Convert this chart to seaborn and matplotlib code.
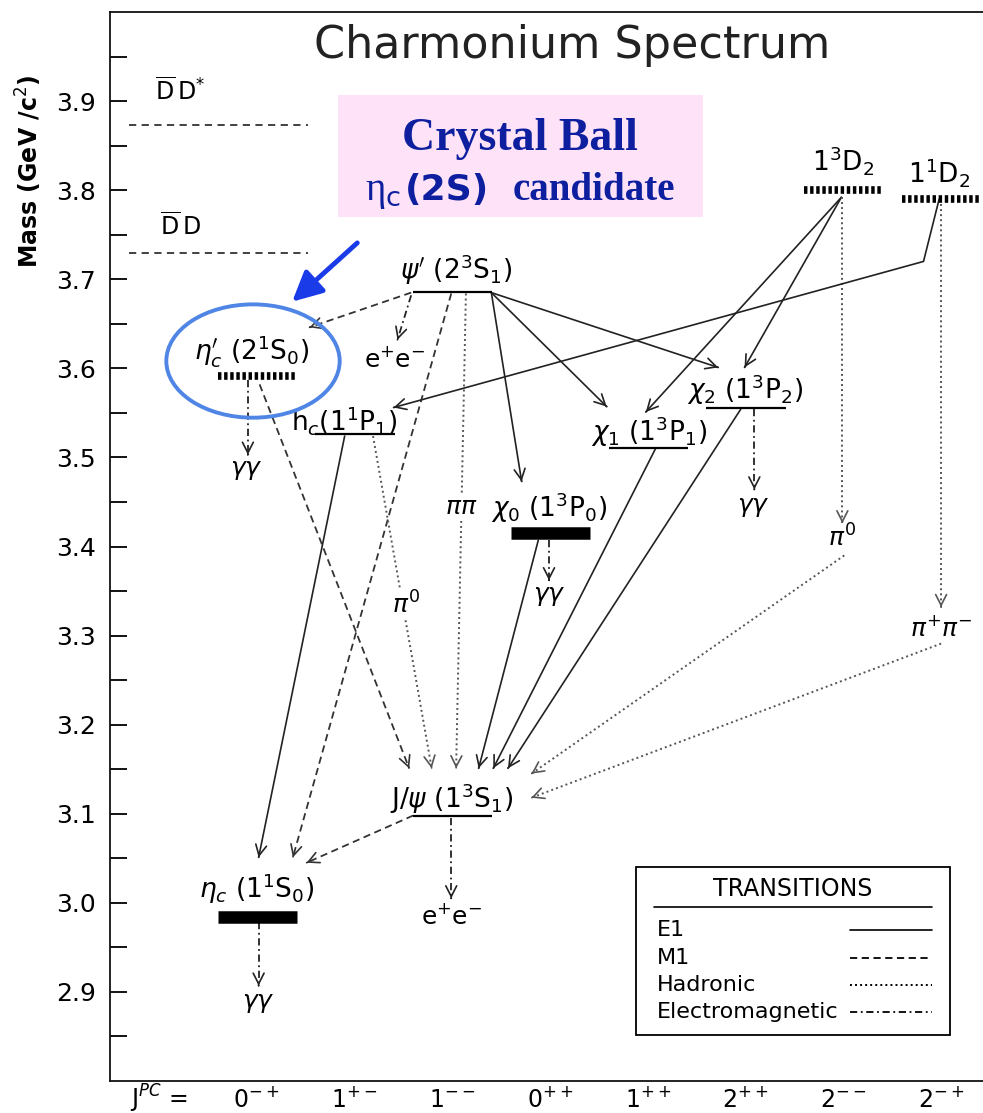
import matplotlib
matplotlib.use("Agg")
import matplotlib.pyplot as plt
from matplotlib.patches import Rectangle, Ellipse
import seaborn as sns
import numpy as np

# x axis: J^PC columns
jpc_pos = [-1, 0, 1, 2, 3, 4, 5, 6, 7]
jpc_labels = [r"J$^{PC}$ =", r"0$^{-+}$", r"1$^{+-}$", r"1$^{--}$", r"0$^{++}$",
              r"1$^{++}$", r"2$^{++}$", r"2$^{--}$", r"2$^{-+}$"]

# charmonium states (column, mass in GeV/c^2)
state_names = [r"$\eta_c$ (1$^1$S$_0$)", r"$\eta_c^{\prime}$ (2$^1$S$_0$)", r"h$_c$(1$^1$P$_1$)",
               r"J/$\psi$ (1$^3$S$_1$)", r"$\psi^{\prime}$ (2$^3$S$_1$)", r"$\chi_0$ (1$^3$P$_0$)",
               r"$\chi_1$ (1$^3$P$_1$)", r"$\chi_2$ (1$^3$P$_2$)", r"1$^3$D$_2$", r"1$^1$D$_2$"]
state_col = [0, 0, 1, 2, 2, 3, 4, 5, 6, 7]
state_mass = [2.984, 3.591, 3.526, 3.097, 3.686, 3.415, 3.511, 3.556, 3.800, 3.790]
state_kind = ["bar", "hatch", "thin", "thin", "thin", "bar", "thin", "thin", "hatch", "hatch"]
state_label_x = [0.0, -0.05, 0.90, 1.99, 2.04, 2.99, 4.01, 4.99, 6.0, 6.98]
state_label_m = [3.016, 3.619, 3.542, 3.117, 3.711, 3.443, 3.529, 3.576, 3.833, 3.820]

# open charm thresholds
thresh_names = [r"$\overline{\rm D}\,$D$^{*}$", r"$\overline{\rm D}\,$D"]
thresh_mass = [3.873, 3.730]
thresh_label_m = [3.911, 3.760]

# transitions: type, start (x, mass), end (x, mass)
trans_type = ["M1", "EM", "M1", "had", "E1", "E1", "E1", "EM", "M1", "E1", "had", "E1", "EM",
              "E1", "E1", "EM", "E1", "E1", "had", "had", "had", "had", "M1", "EM", "EM"]
trans_x0 = [1.58, 1.58, 1.99, 2.14, 2.40, 2.40, 2.40, -0.09, 0.03, 0.90, 1.19, 2.88, 2.99,
            4.08, 4.95, 5.09, 5.98, 5.98, 5.99, 6.01, 7.0, 7.0, 1.60, 1.99, 0.02]
trans_m0 = [3.685, 3.682, 3.684, 3.684, 3.685, 3.685, 3.685, 3.587, 3.582, 3.524, 3.524, 3.407, 3.407,
            3.510, 3.554, 3.554, 3.792, 3.792, 3.792, 3.390, 3.790, 3.291, 3.098, 3.095, 2.978]
trans_x1 = [0.54, 1.44, 0.37, 2.04, 2.71, 3.58, 4.72, -0.09, 1.56, 0.02, 1.79, 2.27, 2.99,
            2.42, 2.57, 5.09, 3.98, 4.99, 5.99, 2.81, 7.0, 2.81, 0.51, 1.99, 0.02]
trans_m1 = [3.646, 3.632, 3.051, 3.151, 3.473, 3.557, 3.601, 3.503, 3.151, 3.051, 3.151, 3.151, 3.362,
            3.151, 3.151, 3.464, 3.551, 3.601, 3.426, 3.145, 3.332, 3.118, 3.045, 3.005, 2.907]

# 1^1D_2 -> h_c (bent line)
bent_x = [6.98, 6.82, 1.40]
bent_m = [3.790, 3.720, 3.556]

# decay products
prod_names = [r"$\gamma\gamma$", r"e$^{+}$e$^{-}$", r"$\pi\pi$", r"$\pi^{0}$", r"$\gamma\gamma$",
              r"$\gamma\gamma$", r"$\pi^{0}$", r"$\pi^{+}\pi^{-}$", r"e$^{+}$e$^{-}$", r"$\gamma\gamma$"]
prod_x = [-0.11, 1.41, 2.09, 1.53, 2.99, 5.08, 5.99, 7.0, 1.99, 0.02]
prod_m = [3.486, 3.610, 3.444, 3.334, 3.344, 3.444, 3.410, 3.308, 2.985, 2.887]

legend_names = ["E1", "M1", "Hadronic", "Electromagnetic"]
legend_types = ["E1", "M1", "had", "EM"]

line_styles = {
    "E1": dict(ls="-", color="#222222", lw=1.2),
    "M1": dict(ls=(0, (4, 2.5)), color="#333333", lw=1.3),
    "had": dict(ls=(0, (1, 1.6)), color="#555555", lw=1.4),
    "EM": dict(ls=(0, (4, 2, 1, 2)), color="#222222", lw=1.3),
}
level_styles = {
    "thin": dict(lw=1.6, linestyles="-"),
    "bar": dict(lw=9, linestyles="-"),
    "hatch": dict(lw=5.5, linestyles=[(0, (0.45, 0.35))]),
}

sns.set_theme(style="ticks", rc={"text.color": "black", "xtick.color": "black",
                                 "ytick.color": "black", "axes.labelcolor": "black"})
plt.rcParams["font.family"] = ["DejaVu Sans"]
plt.rcParams["mathtext.fontset"] = "dejavusans"

fig = plt.figure(figsize=(9.83, 11.13), dpi=100)
ax = fig.add_axes([110 / 983, 32 / 1113, 880 / 983, 1069 / 1113])
ax.set_xlim(-1.5, 7.5)
ax.set_ylim(2.8, 4.0)

# thresholds
for name, m, lm in zip(thresh_names, thresh_mass, thresh_label_m):
    ax.plot([-1.31, 0.53], [m, m], ls=(0, (4, 3)), color="#333333", lw=1.3)
    ax.text(-0.78, lm, name, ha="center", va="center", fontsize=17)

# transitions
def arrow_head(x0, y0, x1, y1, color):
    eps = 1e-3
    ax.annotate("", xy=(x1, y1), xytext=(x1 - eps * (x1 - x0), y1 - eps * (y1 - y0)),
                arrowprops=dict(arrowstyle="->,head_length=0.55,head_width=0.28", color=color,
                                lw=1.2, shrinkA=0, shrinkB=0, mutation_scale=14), zorder=2)

for t, x0, m0, x1, m1 in zip(trans_type, trans_x0, trans_m0, trans_x1, trans_m1):
    st = line_styles[t]
    ax.plot([x0, x1], [m0, m1], zorder=2, **st)
    arrow_head(x0, m0, x1, m1, st["color"])

ax.plot(bent_x, bent_m, zorder=2, **line_styles["E1"])
arrow_head(bent_x[-2], bent_m[-2], bent_x[-1], bent_m[-1], line_styles["E1"]["color"])

# levels
for c, m, k in zip(state_col, state_mass, state_kind):
    ax.hlines(m, c - 0.4, c + 0.41, colors="black", zorder=3, **level_styles[k])
for name, lx, lm in zip(state_names, state_label_x, state_label_m):
    ax.text(lx, lm, name, ha="center", va="center", fontsize=19, zorder=4)

for name, px, pm in zip(prod_names, prod_x, prod_m):
    ax.text(px, pm, name, ha="center", va="center", fontsize=18, zorder=4,
            bbox=dict(boxstyle="square,pad=0.05", fc="white", ec="none"))

# axes styling
ax.set_yticks(np.round(np.arange(2.9, 3.95, 0.1), 2))
ax.set_yticklabels([f"{v:.1f}" for v in np.arange(2.9, 3.95, 0.1)])
ax.set_yticks(np.round(np.arange(2.85, 4.0, 0.1), 2), minor=True)
ax.set_xticks(jpc_pos)
ax.set_xticklabels(jpc_labels)
ax.tick_params(axis="y", which="both", direction="in", length=12, width=1.3, pad=10,
               labelsize=18, color="black")
ax.tick_params(axis="x", length=0, pad=19, labelsize=17)
for lab in ax.get_xticklabels():
    lab.set_verticalalignment("baseline")
ax.set_ylabel("")
fig.text(29 / 983, 1 - 171 / 1113, r"Mass (GeV /c$^2$)", rotation=90, ha="center", va="center",
         fontsize=17, fontweight="bold")
sns.despine(ax=ax, top=False, right=True)
for s in ["left", "bottom", "top"]:
    ax.spines[s].set_color("#111111")
    ax.spines[s].set_linewidth(1.3)

ax.text(0.525, 0.969, "Charmonium Spectrum", transform=ax.transAxes, ha="center", va="center",
        fontsize=32, color="#222222")

# legend box
ax.add_patch(Rectangle((0.598, 0.043), 0.357, 0.157, transform=ax.transAxes, fill=False,
                       ec="black", lw=1.3, zorder=5))
ax.text(0.776, 0.1796, "TRANSITIONS", transform=ax.transAxes, ha="center", va="center",
        fontsize=17, zorder=5)
ax.plot([0.618, 0.934], [0.1628, 0.1628], transform=ax.transAxes, color="black", lw=1.2, zorder=5)
for i, (name, t) in enumerate(zip(legend_names, legend_types)):
    yy = 0.1408 - i * 0.0253
    ax.text(0.6216, yy, name, transform=ax.transAxes, ha="left", va="center", fontsize=16, zorder=5)
    st = dict(line_styles[t])
    st["color"] = "black"
    ax.plot([0.841, 0.934], [yy, yy], transform=ax.transAxes, zorder=5, **st)

# Crystal Ball annotation
ax.add_patch(Rectangle((0.259, 0.808), 0.415, 0.114, transform=ax.transAxes, fc="#fde2f8",
                       ec="none", zorder=6))
blue = "#0d1f9e"
ax.text(0.466, 0.871, "Crystal Ball", transform=ax.transAxes, ha="center", va="baseline",
        fontsize=33, fontweight="bold", family="Liberation Serif", color=blue, zorder=7)
ax.text(0.290, 0.8246, r"η$_\mathrm{c}$", transform=ax.transAxes, ha="left", va="baseline",
        fontsize=28, family="Liberation Serif", color=blue, zorder=7)
ax.text(0.335, 0.8246, "(2S)", transform=ax.transAxes, ha="left", va="baseline",
        fontsize=26, fontweight="bold", family="DejaVu Sans", color=blue, zorder=7)
ax.text(0.457, 0.8246, "candidate", transform=ax.transAxes, ha="left", va="baseline",
        fontsize=28, fontweight="bold", family="Liberation Serif", color=blue, zorder=7)
ax.add_patch(Ellipse((0.1625, 0.6735), 0.197, 0.106, transform=ax.transAxes, fill=False,
                     ec="#4f86e6", lw=2.8, zorder=7))
ax.annotate("", xy=(0.207, 0.729), xytext=(0.281, 0.784), xycoords="axes fraction",
            arrowprops=dict(arrowstyle="-|>,head_length=0.9,head_width=0.45", color="#1a3be8",
                            lw=3.5, mutation_scale=20, shrinkA=0, shrinkB=0), zorder=7)

fig.savefig("out.png", dpi=100)
